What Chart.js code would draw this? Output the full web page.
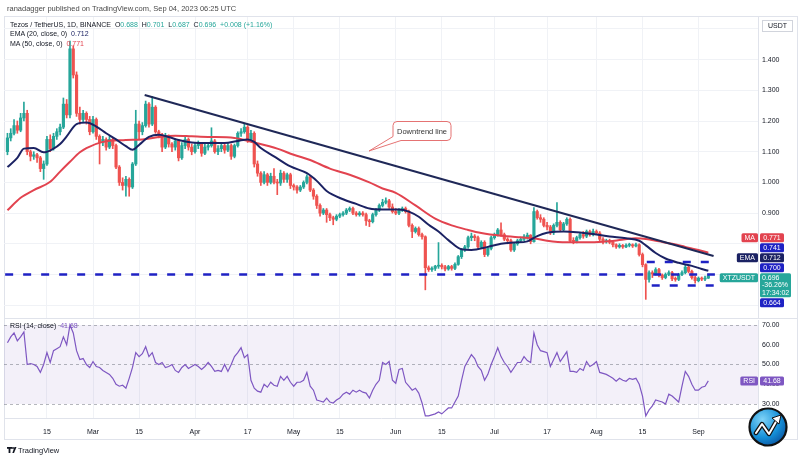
<!DOCTYPE html>
<html><head><meta charset="utf-8">
<script src="https://cdn.jsdelivr.net/npm/chart.js@4.4.0/dist/chart.umd.min.js"></script>
<style>
body{margin:0;width:800px;height:460px;background:#fff;overflow:hidden;position:relative;font-family:"Liberation Sans",Arial,sans-serif;}
canvas{position:absolute;left:0;}
#c1{top:0}
#c2{top:306px}
.t{position:absolute;white-space:nowrap;font-size:7px;line-height:9px;color:#131722;}
.frame{position:absolute;left:4px;top:16px;width:794px;height:424px;border:1px solid #e0e3eb;box-sizing:border-box;}
.sep{position:absolute;left:4px;width:794px;height:1px;background:#e0e3eb;}
</style></head><body>
<div class="frame"></div>
<div class="sep" style="top:318px"></div>
<canvas id="c1" width="800" height="332"></canvas>
<canvas id="c2" width="800" height="154"></canvas>
<div class="t" style="left:7px;top:4px;color:#4a4a4a;font-size:7.5px">ranadagger published on TradingView.com, Sep 04, 2023 06:25 UTC</div>
<div class="t" style="left:10px;top:19.5px">Tezos / TetherUS, 1D, BINANCE&nbsp; O<span style="color:#26a69a">0.688</span>&nbsp; H<span style="color:#26a69a">0.701</span>&nbsp; L<span style="color:#26a69a">0.687</span>&nbsp; C<span style="color:#26a69a">0.696</span>&nbsp; <span style="color:#26a69a">+0.008 (+1.16%)</span></div>
<div class="t" style="left:10px;top:29px">EMA (20, close, 0)&nbsp; <span style="color:#1b2263">0.712</span></div>
<div class="t" style="left:10px;top:39px">MA (50, close, 0)&nbsp; <span style="color:#e2434f">0.771</span></div>
<div class="t" style="left:10px;top:321px">RSI (14, close)&nbsp; <span style="color:#7e57c2">41.68</span></div>
<svg style="position:absolute;left:0;top:0" width="800" height="460">
  <path d="M397,121.5 H447 Q451,121.5 451,125.5 V136.5 Q451,140.5 447,140.5 H401 L369,151 L393,136.5 V125.5 Q393,121.5 397,121.5 Z" fill="#fff" stroke="#e57373" stroke-width="1"/>
  <text x="422" y="133.5" font-size="7.5" text-anchor="middle" fill="#333" font-family="Liberation Sans, Arial, sans-serif">Downtrend line</text>
  <g fill="#131722"><rect x="7" y="447" width="5" height="1.8"/><rect x="8.6" y="447" width="1.8" height="6"/><circle cx="13" cy="448" r="1"/><path d="M14.5,447 L16.5,447 L14,453 L12.3,453 Z"/></g>
  <text x="18" y="453" font-size="7.5" fill="#131722" font-family="Liberation Sans, Arial, sans-serif">TradingView</text>
  <defs><radialGradient id="lg" cx="0.35" cy="0.3" r="0.8"><stop offset="0" stop-color="#7fd3f7"/><stop offset="0.6" stop-color="#1590d8"/><stop offset="1" stop-color="#0a4f9c"/></radialGradient></defs>
  <circle cx="768" cy="427" r="18.5" fill="url(#lg)" stroke="#111" stroke-width="2.2"/>
  <path d="M756,433 L762,424 L769,434 L777,420" fill="none" stroke="#111" stroke-width="4.5" stroke-linejoin="round" stroke-linecap="round"/>
  <path d="M756,433 L762,424 L769,434 L777,420" fill="none" stroke="#fff" stroke-width="2" stroke-linejoin="round" stroke-linecap="round"/>
  <path d="M772,418 L781,415 L779,424 Z" fill="#fff" stroke="#111" stroke-width="1"/>
</svg>
<script>
// ---- data ----
const firstDay = -26; // day index of first candle (0 = Mar 1, 2023)
const opens = [
1.100,1.145,1.160,1.185,1.170,1.210,1.225,1.100,1.085,1.090,
1.080,1.045,1.060,1.140,1.110,1.150,1.165,1.180,1.255,1.220,
1.435,1.350,1.225,1.205,1.225,1.205,1.165,1.205,1.150,1.130,
1.140,1.115,1.140,1.120,1.050,1.000,0.990,1.010,0.985,1.060,
1.190,1.165,1.185,1.255,1.190,1.245,1.165,1.155,1.115,1.150,
1.125,1.115,1.135,1.080,1.120,1.140,1.115,1.100,1.120,1.125,
1.095,1.115,1.120,1.135,1.100,1.110,1.120,1.105,1.120,1.085,
1.120,1.160,1.165,1.180,1.140,1.160,1.060,1.030,1.000,1.025,
1.000,1.020,1.000,0.998,1.030,1.010,1.025,0.990,0.985,0.975,
0.985,1.000,1.018,0.975,0.955,0.925,0.900,0.910,0.895,0.885,
0.880,0.890,0.895,0.900,0.910,0.915,0.900,0.895,0.900,0.895,
0.875,0.872,0.895,0.910,0.925,0.935,0.940,0.920,0.905,0.900,
0.910,0.915,0.905,0.860,0.840,0.850,0.830,0.823,0.722,0.716,
0.720,0.727,0.730,0.725,0.718,0.726,0.720,0.733,0.758,0.780,
0.790,0.820,0.825,0.820,0.790,0.805,0.765,0.785,0.820,0.830,
0.845,0.830,0.815,0.810,0.780,0.800,0.810,0.815,0.823,0.828,
0.807,0.905,0.885,0.880,0.860,0.855,0.836,0.860,0.870,0.846,
0.865,0.880,0.810,0.808,0.820,0.830,0.825,0.840,0.830,0.840,
0.835,0.815,0.807,0.810,0.805,0.797,0.790,0.795,0.790,0.795,
0.797,0.793,0.797,0.765,0.732,0.684,0.706,0.702,0.716,0.698,
0.690,0.700,0.706,0.686,0.684,0.700,0.706,0.724,0.710,0.690,
0.680,0.688,0.685,0.688];
const highs = [
1.160,1.175,1.205,1.200,1.225,1.262,1.235,1.105,1.100,1.095,
1.085,1.070,1.150,1.155,1.160,1.175,1.190,1.275,1.270,1.460,
1.445,1.360,1.245,1.235,1.230,1.215,1.215,1.210,1.155,1.150,
1.145,1.150,1.145,1.125,1.055,1.015,1.020,1.015,1.065,1.235,
1.200,1.195,1.265,1.260,1.280,1.250,1.170,1.160,1.160,1.155,
1.130,1.140,1.140,1.130,1.150,1.145,1.125,1.130,1.135,1.130,
1.125,1.130,1.178,1.140,1.120,1.130,1.125,1.130,1.125,1.125,
1.165,1.175,1.190,1.185,1.170,1.165,1.070,1.035,1.035,1.030,
1.030,1.045,1.010,1.040,1.035,1.030,1.030,0.995,0.990,0.990,
1.005,1.025,1.020,0.980,0.960,0.930,0.915,0.915,0.900,0.890,
0.895,0.900,0.905,0.915,0.920,0.920,0.905,0.905,0.905,0.900,
0.880,0.900,0.915,0.930,0.945,0.950,0.945,0.930,0.915,0.915,
0.920,0.920,0.910,0.865,0.855,0.855,0.835,0.826,0.728,0.725,
0.730,0.804,0.735,0.730,0.730,0.730,0.738,0.762,0.785,0.795,
0.825,0.835,0.830,0.825,0.810,0.810,0.790,0.825,0.835,0.850,
0.868,0.835,0.820,0.815,0.805,0.815,0.820,0.830,0.835,0.830,
0.918,0.910,0.895,0.885,0.870,0.860,0.865,0.934,0.875,0.870,
0.885,0.885,0.820,0.825,0.835,0.840,0.845,0.845,0.848,0.845,
0.840,0.820,0.815,0.815,0.810,0.800,0.800,0.798,0.800,0.802,
0.800,0.802,0.800,0.770,0.735,0.712,0.712,0.722,0.720,0.702,
0.705,0.712,0.710,0.692,0.704,0.712,0.730,0.728,0.714,0.695,
0.692,0.692,0.695,0.701];
const lows = [
1.090,1.135,1.155,1.160,1.165,1.200,1.090,1.070,1.075,1.065,
1.035,1.010,1.055,1.100,1.105,1.140,1.155,1.175,1.210,1.210,
1.340,1.215,1.190,1.195,1.190,1.155,1.160,1.140,1.060,1.120,
1.105,1.110,1.110,1.045,0.990,0.975,0.955,0.955,0.980,1.055,
1.140,1.155,1.180,1.180,1.185,1.160,1.145,1.100,1.110,1.115,
1.100,1.105,1.070,1.075,1.110,1.105,1.090,1.095,1.110,1.085,
1.090,1.105,1.115,1.095,1.090,1.100,1.095,1.100,1.075,1.080,
1.115,1.150,1.160,1.130,1.135,1.050,1.020,0.990,0.995,0.990,
0.995,0.995,0.960,0.990,1.000,1.000,0.980,0.975,0.965,0.970,
0.980,0.995,0.970,0.945,0.915,0.890,0.895,0.870,0.875,0.862,
0.875,0.885,0.890,0.895,0.905,0.895,0.890,0.890,0.890,0.860,
0.856,0.868,0.890,0.905,0.920,0.930,0.915,0.900,0.895,0.895,
0.905,0.900,0.855,0.820,0.835,0.825,0.815,0.650,0.710,0.710,
0.713,0.720,0.718,0.712,0.714,0.714,0.716,0.730,0.752,0.775,
0.785,0.810,0.810,0.785,0.785,0.758,0.760,0.780,0.815,0.825,
0.825,0.810,0.800,0.775,0.775,0.795,0.805,0.810,0.815,0.800,
0.805,0.880,0.870,0.855,0.845,0.830,0.830,0.855,0.840,0.840,
0.860,0.805,0.800,0.803,0.815,0.818,0.820,0.825,0.826,0.830,
0.810,0.800,0.802,0.800,0.790,0.785,0.786,0.785,0.787,0.790,
0.788,0.790,0.760,0.725,0.619,0.675,0.690,0.698,0.692,0.684,
0.686,0.696,0.680,0.678,0.680,0.696,0.702,0.705,0.685,0.672,
0.676,0.680,0.680,0.687];
const closes = [
1.145,1.160,1.185,1.170,1.210,1.225,1.100,1.085,1.090,1.080,
1.045,1.060,1.140,1.110,1.150,1.165,1.180,1.255,1.220,1.435,
1.350,1.225,1.205,1.225,1.205,1.165,1.205,1.150,1.130,1.140,
1.115,1.140,1.120,1.050,1.000,0.990,1.010,0.985,1.060,1.190,
1.165,1.185,1.255,1.190,1.245,1.165,1.155,1.115,1.150,1.125,
1.115,1.135,1.080,1.120,1.140,1.115,1.100,1.120,1.125,1.095,
1.115,1.120,1.135,1.100,1.110,1.120,1.105,1.120,1.085,1.120,
1.160,1.165,1.180,1.140,1.160,1.060,1.030,1.000,1.025,1.000,
1.020,1.000,0.998,1.030,1.010,1.025,0.990,0.985,0.975,0.985,
1.000,1.018,0.975,0.955,0.925,0.900,0.910,0.895,0.885,0.880,
0.890,0.895,0.900,0.910,0.915,0.900,0.895,0.900,0.895,0.875,
0.872,0.895,0.910,0.925,0.935,0.940,0.920,0.905,0.900,0.910,
0.915,0.905,0.860,0.840,0.850,0.830,0.823,0.722,0.716,0.720,
0.727,0.730,0.725,0.718,0.726,0.720,0.733,0.758,0.780,0.790,
0.820,0.825,0.820,0.790,0.805,0.765,0.785,0.820,0.830,0.845,
0.830,0.815,0.810,0.780,0.800,0.810,0.815,0.823,0.828,0.807,
0.905,0.885,0.880,0.860,0.855,0.836,0.860,0.870,0.846,0.865,
0.880,0.810,0.808,0.820,0.830,0.825,0.840,0.830,0.840,0.835,
0.815,0.807,0.810,0.805,0.797,0.790,0.795,0.790,0.795,0.797,
0.793,0.797,0.765,0.732,0.684,0.706,0.702,0.716,0.698,0.690,
0.700,0.706,0.686,0.684,0.700,0.706,0.724,0.710,0.690,0.680,
0.688,0.685,0.688,0.696];
const rsiValues = [
61,64,66,62,64,66.5,50,50.5,50,49,
46,50,56,51,57,58,59,64,60,70,
66,57,52.5,53,50,48.5,51.5,49,48.5,47,
46,45,43,40,39,39.5,38,43,48.5,56,
54,55.5,59,54,56,51,50,51,48.5,49,
50,47,46,48.5,50,48,49,50,49,47.5,
49,51,49,46.5,47,46.5,50,46.5,50,54,
56,58.5,53.5,55,42,38,36.5,36,40,38.5,
41,39.5,39,44,42,44,41,39,41,41,
42,46,39,37,32,31.5,31,33,31,30.5,
32,33,35,36,35,37,36,37,36,35.5,
33,37,40,42,51,50,51.5,42,40.5,47.5,
48,41,39,37,38,35.5,30.5,24,24,24.5,
25,26,25,26.5,28,28,31,34,42,49,
52,55,53,49,47,42,45,50,54,58.5,
54,51,49,46,48.5,51,51,54,52,51,
66,60,57,56.5,56,49,52.5,56,51.5,54,
56.5,46.5,46.5,46,48,47,51.5,49,50,51.5,
46,45.5,45,44,43,41.5,43,42,41.5,43,
42.5,43,40,34,24,27,29,32,31.5,31,
30,35,34,32.5,31,39,46.5,44,40,37,
37,38.5,39,41.68];
const emaDays   = [-26,-23,-21,-18,-15,-12,-10,-8,-5,-2,1,4,7,10,12,14,17,20,23,26,30,35,40,44,47,49,51,55,60,65,68,71,76,80,84,88,93,96,99,102,105,108,112,115,120,124,128,132,135,138,143,147,152,157,162,166,168,171,174,178,182,185,187];
const emaValues = [1.050,1.080,1.110,1.112,1.098,1.110,1.125,1.150,1.190,1.195,1.182,1.160,1.140,1.118,1.106,1.122,1.148,1.155,1.148,1.138,1.130,1.128,1.128,1.135,1.140,1.132,1.112,1.085,1.052,1.030,1.005,0.972,0.945,0.930,0.915,0.912,0.912,0.905,0.888,0.862,0.840,0.812,0.782,0.780,0.790,0.800,0.804,0.808,0.825,0.836,0.840,0.838,0.832,0.824,0.818,0.810,0.795,0.770,0.752,0.738,0.728,0.718,0.712];
const maDays   = [-26,-22,-18,-13,-10,-7,-4,-2,3,10,15,20,25,30,35,43,49,56,61,66,72,78,84,88,92,98,104,109,114,118,124,130,134,138,144,150,155,160,165,168,172,176,180,184,187];
const maValues = [0.909,0.950,0.975,1.002,1.035,1.067,1.098,1.112,1.132,1.138,1.140,1.148,1.152,1.150,1.148,1.145,1.130,1.110,1.090,1.073,1.045,1.025,1.000,0.980,0.966,0.925,0.882,0.860,0.845,0.835,0.826,0.821,0.818,0.810,0.805,0.805,0.807,0.812,0.818,0.816,0.808,0.800,0.790,0.780,0.771];
const trendDays   = [15.7, 188.6];
const trendValues = [1.285, 0.760];
const levelValues = [0.700, 0.741, 0.664];
const levelFrom   = [-26.7, 168.3, 169.8];
const levelTo     = [189, 189, 189];
const tickDays   = [-14,0,14,31,47,61,75,92,106,122,138,153,167,184];
const tickLabels = ['15','Mar','15','Apr','17','May','15','Jun','15','Jul','17','Aug','15','Sep'];
const priceGrid  = [0.6,0.7,0.8,0.9,1.0,1.1,1.2,1.3,1.4,1.5];
const priceLabels = [0.9,1.0,1.1,1.2,1.3,1.4];
const rsiTicks = [30,40,50,60,70];
const lastPrice = 0.696, emaLast = 0.712, maLast = 0.771, rsiLast = 41.68;
const lastChange = '-36.26%', countdown = '17:34:02';

// ---- styles ----
const UP='#26a69a', DN='#ef5350', NAVY='#1b2263', MAC='#e2434f', BLUE='#1f22c4', PURPLE='#7e57c2';
const GRID='#f0f2f6', AXC='#131722';
const FONT='"Liberation Sans", Arial, sans-serif';
const X_MIN=-27.05, X_MAX=202.1;

const upB=[],dnB=[],upW=[],dnW=[];
closes.forEach((c,i)=>{
  const d=firstDay+i, o=opens[i];
  const body={x:d,y:[o,c]}, wick={x:d,y:[lows[i],highs[i]]};
  if(c>=o){upB.push(body);upW.push(wick);} else {dnB.push(body);dnW.push(wick);}
});
const pts=(xs,ys)=>xs.map((x,i)=>({x,y:ys[i]}));

function rr(ctx,x,y,w,h,r,fill){ctx.beginPath();ctx.moveTo(x+r,y);ctx.lineTo(x+w-r,y);ctx.quadraticCurveTo(x+w,y,x+w,y+r);ctx.lineTo(x+w,y+h-r);ctx.quadraticCurveTo(x+w,y+h,x+w-r,y+h);ctx.lineTo(x+r,y+h);ctx.quadraticCurveTo(x,y+h,x,y+h-r);ctx.lineTo(x,y+r);ctx.quadraticCurveTo(x,y,x+r,y);ctx.closePath();ctx.fillStyle=fill;ctx.fill();}

function drawTag(ctx,yc,h,color,val,name){
  rr(ctx,760,yc-h/2,24,h,1.5,color);
  ctx.fillStyle='#fff';ctx.textAlign='center';ctx.fillText(val,772,yc+0.5);
  if(name){const w=ctx.measureText(name).width+6;rr(ctx,758-w,yc-h/2,w,h,1.5,color);ctx.fillStyle='#fff';ctx.fillText(name,758-w/2,yc+0.5);}
}

const tagPlugin={id:'tags',afterDraw(chart){
  const ctx=chart.ctx, ys=chart.scales.y; const H=9;
  ctx.save(); ctx.font='7px '+FONT; ctx.textBaseline='middle';
  const yc=ys.getPixelForValue(lastPrice); const top=yc-2.5;
  rr(ctx,760,top,31,24,1.5,UP);
  ctx.fillStyle='#fff'; ctx.textAlign='left';
  ctx.fillText(lastPrice.toFixed(3),762,top+4.5);
  ctx.fillText(lastChange,762,top+12.2);
  ctx.fillText(countdown,762,top+19.8);
  const nw=ctx.measureText('XTZUSDT').width+6; rr(ctx,758-nw,top,nw,H,1.5,UP);
  ctx.fillStyle='#fff'; ctx.textAlign='center'; ctx.fillText('XTZUSDT',758-nw/2,top+4.5);
  const above=[{v:levelValues[0],c:BLUE},{v:emaLast,c:NAVY,n:'EMA'},{v:levelValues[1],c:BLUE},{v:maLast,c:MAC,n:'MA'}].sort((a,b)=>a.v-b.v);
  let prevTop=top;
  above.forEach(t=>{const c=Math.min(ys.getPixelForValue(t.v),prevTop-1-H/2);drawTag(ctx,c,H,t.c,t.v.toFixed(3),t.n);prevTop=c-H/2;});
  const c2=Math.max(ys.getPixelForValue(levelValues[2]),top+24+1+H/2);
  drawTag(ctx,c2,H,BLUE,levelValues[2].toFixed(3));
  ctx.strokeStyle='#d1d4dc'; ctx.lineWidth=1; ctx.strokeRect(762.5,20.5,30,11);
  ctx.fillStyle=AXC; ctx.textAlign='center'; ctx.fillText('USDT',777.5,26.3);
  ctx.restore();
}};

const c1=new Chart(document.getElementById('c1'),{
  type:'bar',
  data:{datasets:[
    {type:'line',data:pts(trendDays,trendValues),borderColor:'#1f2857',borderWidth:2,pointRadius:0,order:0},
    ...levelValues.map((v,i)=>({type:'line',data:[{x:levelFrom[i],y:v},{x:levelTo[i],y:v}],borderColor:BLUE,borderWidth:2.5,borderDash:[8,10],pointRadius:0,order:1})),
    {type:'line',data:pts(emaDays,emaValues),borderColor:NAVY,borderWidth:2,pointRadius:0,cubicInterpolationMode:'monotone',order:2},
    {type:'line',data:pts(maDays,maValues),borderColor:MAC,borderWidth:2,pointRadius:0,cubicInterpolationMode:'monotone',order:3},
    {data:upB,backgroundColor:UP,barThickness:2.5,grouped:false,minBarLength:1,order:4},
    {data:dnB,backgroundColor:DN,barThickness:2.5,grouped:false,minBarLength:1,order:4},
    {data:upW,backgroundColor:UP,barThickness:1,grouped:false,order:5},
    {data:dnW,backgroundColor:DN,barThickness:1,grouped:false,order:5}
  ]},
  options:{responsive:false,devicePixelRatio:1,animation:false,events:[],
    layout:{autoPadding:false,padding:{left:4,right:0,top:17,bottom:14}},
    plugins:{legend:{display:false},tooltip:{enabled:false}},
    scales:{
      x:{type:'linear',min:X_MIN,max:X_MAX,offset:false,ticks:{display:false},grid:{color:GRID,drawTicks:false,offset:false},border:{display:false},
        afterBuildTicks:s=>{s.ticks=tickDays.map(v=>({value:v}));},afterFit:s=>{s.height=0;}},
      y:{type:'linear',position:'right',min:0.5583,max:1.5388,
        afterBuildTicks:s=>{s.ticks=priceGrid.map(v=>({value:v}));},afterFit:s=>{s.width=42;},
        ticks:{padding:4,color:AXC,font:{size:7,family:FONT},callback:v=>priceLabels.some(p=>Math.abs(p-v)<1e-6)?v.toFixed(3):''},
        grid:{color:GRID,drawTicks:false},border:{display:true,color:'#e0e3eb'}}
    }},
  plugins:[tagPlugin]
});

const rsiPlugin={id:'rsiDeco',
  beforeDatasetsDraw(chart){
    const {ctx,chartArea:a,scales:{y}}=chart; ctx.save();
    ctx.fillStyle='rgba(126,87,194,0.09)';
    ctx.fillRect(a.left,y.getPixelForValue(70),a.right-a.left,y.getPixelForValue(30)-y.getPixelForValue(70));
    ctx.strokeStyle='rgba(120,123,134,0.55)'; ctx.lineWidth=1; ctx.setLineDash([3,3]);
    [70,50,30].forEach(v=>{const py=Math.round(y.getPixelForValue(v))+0.5;ctx.beginPath();ctx.moveTo(a.left,py);ctx.lineTo(a.right,py);ctx.stroke();});
    ctx.restore();
  },
  afterDraw(chart){
    const {ctx,scales:{y}}=chart; ctx.save(); ctx.font='7px '+FONT; ctx.textBaseline='middle';
    drawTag(ctx,y.getPixelForValue(rsiLast),9,PURPLE,rsiLast.toFixed(2),'RSI');
    ctx.restore();
  }};

const c2=new Chart(document.getElementById('c2'),{
  type:'line',
  data:{datasets:[{data:rsiValues.map((v,i)=>({x:firstDay+i,y:v})),borderColor:PURPLE,borderWidth:1.2,pointRadius:0}]},
  options:{responsive:false,devicePixelRatio:1,animation:false,events:[],
    layout:{autoPadding:false,padding:{left:4,right:0,top:14,bottom:20}},
    plugins:{legend:{display:false},tooltip:{enabled:false}},
    scales:{
      x:{type:'linear',min:X_MIN,max:X_MAX,offset:false,
        afterBuildTicks:s=>{s.ticks=tickDays.map(v=>({value:v}));},afterFit:s=>{s.height=22;},
        ticks:{autoSkip:false,maxRotation:0,padding:10,color:AXC,font:{size:7,family:FONT},callback:(v,i)=>tickLabels[i]},
        grid:{color:GRID,drawTicks:false},border:{display:true,color:'#e0e3eb'}},
      y:{type:'linear',position:'right',min:22.91,max:72.53,
        afterBuildTicks:s=>{s.ticks=rsiTicks.map(v=>({value:v}));},afterFit:s=>{s.width=42;},
        ticks:{padding:4,color:AXC,font:{size:7,family:FONT},callback:v=>v.toFixed(2)},
        grid:{display:false,drawTicks:false},border:{display:true,color:'#e0e3eb'}}
    }},
  plugins:[rsiPlugin]
});
</script>
</body></html>
